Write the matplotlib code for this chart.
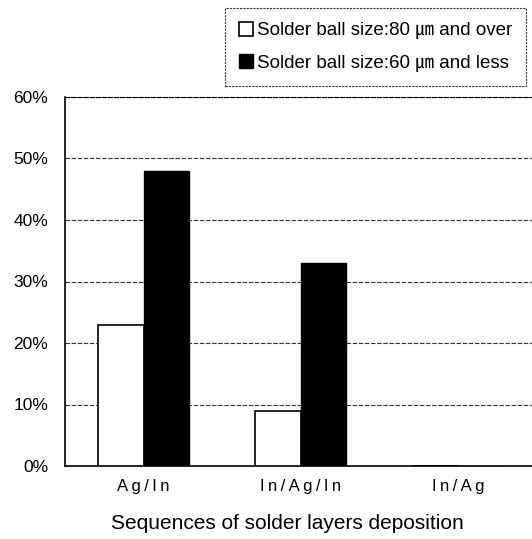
import matplotlib
matplotlib.use("Agg")
import matplotlib.pyplot as plt
import numpy as np

plt.rcParams['font.family'] = ['Liberation Sans', 'Noto Sans CJK KR', 'DejaVu Sans']

categories = ["Ag/In", "In/Ag/In", "In/Ag"]
over80 = [23, 9, 0]
less60 = [48, 33, 0]
labels = ["Solder ball size:80 \u339b and over", "Solder ball size:60 \u339b and less"]
yticks = [0, 10, 20, 30, 40, 50, 60]

fig = plt.figure(figsize=(5.32, 5.39), dpi=100)
ax = fig.add_axes([65/532, 1-466/539, 1-65/532, (466-97)/539])

x = np.arange(len(categories))
w = 0.29
b1 = ax.bar(x - w/2, over80, w, color="white", edgecolor="black", linewidth=1.2, label=labels[0], zorder=3)
b2 = ax.bar(x + w/2, less60, w, color="black", edgecolor="black", linewidth=1.0, label=labels[1], zorder=3)

ax.set_xlim(-0.5, 2.47)
ax.set_ylim(0, 60)
ax.set_yticks(yticks)
ax.set_yticklabels([f"{t}%" for t in yticks], fontsize=12.5)
ax.set_xticks(x)
# the original tick labels are letter-spaced
ax.set_xticklabels(["\u2009".join(c) for c in categories], fontsize=12)
ax.tick_params(length=0)
ax.tick_params(axis='x', pad=9)
ax.tick_params(axis='y', pad=12)
ax.grid(axis='y', color="#333333", linestyle=(0, (4, 1.5)), linewidth=0.8, zorder=0)
ax.spines['right'].set_visible(False)
ax.spines['top'].set_linestyle((0, (4, 1.5)))
ax.spines['top'].set_linewidth(0.8)
ax.spines['left'].set_linewidth(1.2)
ax.spines['bottom'].set_linewidth(1.2)
ax.set_xlabel("Sequences of solder layers deposition", fontsize=15)
ax.xaxis.set_label_coords((287-65)/467, -(514-466)/369)

leg = fig.legend(handles=[b1, b2], loc="upper right", bbox_to_anchor=(526/532, 1-8/539),
                 borderaxespad=0,
                 fontsize=13.5, frameon=True, fancybox=False, handlelength=0.75, handleheight=0.75,
                 handletextpad=0.2, borderpad=0.75, labelspacing=0.8, edgecolor="black")
leg.get_frame().set_linestyle((0, (2, 1)))
leg.get_frame().set_linewidth(0.8)

fig.savefig("out.png", dpi=100)
